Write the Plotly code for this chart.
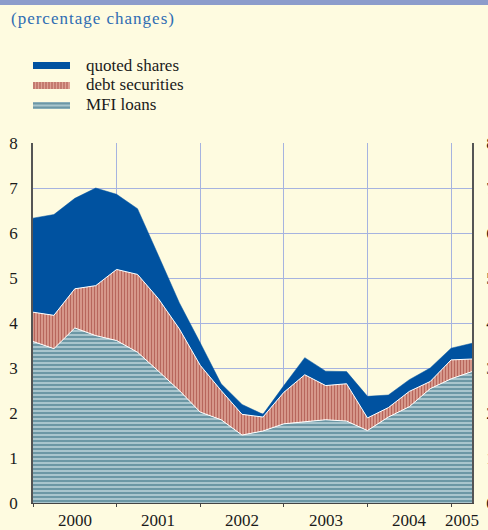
import plotly.graph_objects as go

# Quarterly observations, 2000 Q1 .. 2005 Q2
quarters = [f"{y} Q{q}" for y in range(2000, 2006) for q in range(1, 5)][:22]
mfi_loans = [3.59, 3.43, 3.89, 3.72, 3.61, 3.35, 2.93, 2.50, 2.02, 1.85, 1.51,
             1.60, 1.76, 1.80, 1.85, 1.82, 1.61, 1.91, 2.14, 2.54, 2.76, 2.92]
debt_securities = [0.65, 0.74, 0.87, 1.11, 1.58, 1.73, 1.61, 1.37, 1.04, 0.65, 0.46,
                   0.31, 0.70, 1.05, 0.76, 0.83, 0.28, 0.21, 0.34, 0.16, 0.42, 0.28]
quoted_shares = [2.09, 2.24, 2.01, 2.17, 1.67, 1.46, 0.96, 0.58, 0.50, 0.15, 0.22,
                 0.06, 0.15, 0.38, 0.32, 0.27, 0.48, 0.28, 0.26, 0.30, 0.26, 0.35]
year_labels = ["2000", "2001", "2002", "2003", "2004", "2005"]
year_centers = [2, 6, 10, 14, 18, 20.5]
year_bounds = [0, 4, 8, 12, 16, 20]
y_ticks = list(range(0, 9))

x = list(range(len(quarters)))

BG = "#FEFBE0"
GRID = "#A6B3E0"
SERIF = "Liberation Serif, Times New Roman, serif"

C_SHARES = "#0052A0"
C_DEBT_BG, C_DEBT_FG = "#DDA194", "#B7665C"
C_LOAN_BG, C_LOAN_FG = "#A9C5CD", "#6C97A5"

fig = go.Figure()
fig.add_trace(go.Scatter(
    x=x, y=mfi_loans, mode="lines", stackgroup="s", name="MFI loans",
    line=dict(color="white", width=1), fillcolor=C_LOAN_BG,
    fillpattern=dict(shape="-", bgcolor=C_LOAN_BG, fgcolor=C_LOAN_FG, size=4,
                     solidity=0.5, fillmode="replace"),
    hoverinfo="skip"))
fig.add_trace(go.Scatter(
    x=x, y=debt_securities, mode="lines", stackgroup="s", name="debt securities",
    line=dict(color="white", width=1), fillcolor=C_DEBT_BG,
    fillpattern=dict(shape="|", bgcolor=C_DEBT_BG, fgcolor=C_DEBT_FG, size=3,
                     solidity=0.45, fillmode="replace"),
    hoverinfo="skip"))
fig.add_trace(go.Scatter(
    x=x, y=quoted_shares, mode="lines", stackgroup="s", name="quoted shares",
    line=dict(color=C_SHARES, width=0.5), fillcolor=C_SHARES,
    hoverinfo="skip"))
# empty trace so that the right-hand axis is created
fig.add_trace(go.Scatter(x=[], y=[], yaxis="y2", mode="lines", showlegend=False,
                         hoverinfo="skip"))

# geometry helpers (pixel -> paper)
L, R, T, B, W, H = 33, 16, 143, 27, 488, 530
PW, PH = W - L - R, H - T - B
def px(v):
    return (v - L) / PW
def py(v):
    return (H - B - v) / PH

shapes = []
# top band
shapes.append(dict(type="rect", xref="paper", yref="paper", x0=px(0), x1=px(488),
                   y0=py(0), y1=py(5), fillcolor="#8C9CCB", line=dict(width=0), layer="above"))
# legend swatches
shapes.append(dict(type="rect", xref="paper", yref="paper", x0=px(33), x1=px(70),
                   y0=py(69), y1=py(62), fillcolor=C_SHARES, line=dict(width=0)))
shapes.append(dict(type="rect", xref="paper", yref="paper", x0=px(33), x1=px(70),
                   y0=py(89), y1=py(82), fillcolor=C_DEBT_BG, line=dict(width=0)))
xv = 34.0
while xv < 70:
    shapes.append(dict(type="line", xref="paper", yref="paper", x0=px(xv), x1=px(xv),
                       y0=py(89), y1=py(82), line=dict(color=C_DEBT_FG, width=1.3)))
    xv += 3
shapes.append(dict(type="rect", xref="paper", yref="paper", x0=px(33), x1=px(70),
                   y0=py(109), y1=py(102), fillcolor=C_LOAN_BG, line=dict(width=0)))
for yv in (103.5, 107.5):
    shapes.append(dict(type="line", xref="paper", yref="paper", x0=px(33), x1=px(70),
                       y0=py(yv), y1=py(yv), line=dict(color=C_LOAN_FG, width=2)))

annotations = []
annotations.append(dict(xref="paper", yref="paper", x=px(9), y=py(19), xanchor="left",
                        yanchor="middle", showarrow=False,
                        text='<span style="letter-spacing:1px">(percentage changes)</span>',
                        font=dict(family=SERIF, size=17, color="#2F6DB3")))
for name, yy in (("quoted shares", 65), ("debt securities", 85), ("MFI loans", 105)):
    annotations.append(dict(xref="paper", yref="paper", x=px(84), y=py(yy), xanchor="left",
                            yanchor="middle", showarrow=False, text=name,
                            font=dict(family=SERIF, size=17, color="#1a1a1a")))
for lab, xc in zip(year_labels, year_centers):
    annotations.append(dict(xref="x", yref="paper", x=xc, y=py(520), xanchor="center",
                            yanchor="middle", showarrow=False, text=lab,
                            font=dict(family=SERIF, size=17, color="#1a1a1a")))

fig.update_layout(
    width=W, height=H,
    margin=dict(l=L, r=R, t=T, b=B, pad=0, autoexpand=False),
    paper_bgcolor=BG, plot_bgcolor=BG,
    showlegend=False,
    shapes=shapes, annotations=annotations,
    xaxis=dict(range=[0, 21], tickvals=year_bounds, showticklabels=False,
               ticks="outside", ticklen=3, tickcolor="#444", tickwidth=1,
               showgrid=True, gridcolor=GRID, gridwidth=1, automargin=False,
               showline=True, linecolor="#444", linewidth=1, zeroline=False,
               fixedrange=True),
    yaxis=dict(range=[0, 8], tickvals=y_ticks, ticks="", showgrid=True,
               gridcolor=GRID, gridwidth=1, showline=True, linecolor="#555",
               linewidth=1.5, zeroline=False, ticklabelstandoff=10, automargin=False,
               tickfont=dict(family=SERIF, size=17, color="#1a1a1a")),
    yaxis2=dict(range=[0, 8], tickvals=y_ticks, overlaying="y", side="right",
                ticks="", showgrid=False, showline=True, linecolor="#555",
                linewidth=1.5, zeroline=False, ticklabelstandoff=9, automargin=False,
                tickfont=dict(family=SERIF, size=17, color="#1a1a1a")),
)

fig.write_html("out.html", config={"displayModeBar": False},
               post_script="document.body.style.margin='0';"
                           "document.body.style.background='" + BG + "';")
